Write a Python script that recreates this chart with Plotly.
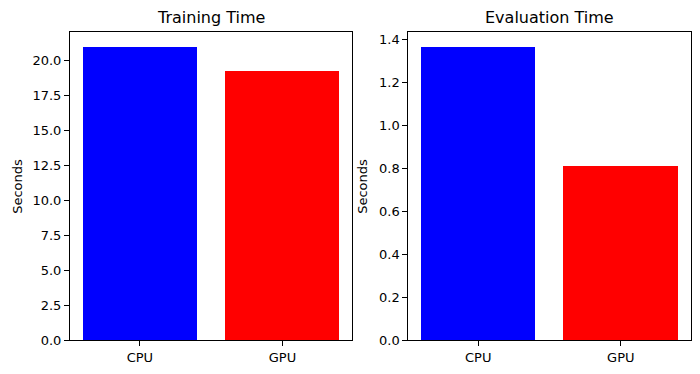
import plotly.graph_objects as go

categories = ["CPU", "GPU"]
training_time = [20.95, 19.2]
evaluation_time = [1.364, 0.807]
bar_colors = ["#0000ff", "#ff0000"]
titles = ["Training Time", "Evaluation Time"]
y_label = "Seconds"

W, H = 700, 374
FONT = "DejaVu Sans"

def px_x(v):
    return v / W

def px_y(v):
    return 1 - v / H

fig = go.Figure()
fig.add_trace(go.Bar(x=categories, y=training_time, marker=dict(color=bar_colors, line=dict(width=0)),
                     width=0.8, xaxis="x", yaxis="y", showlegend=False))
fig.add_trace(go.Bar(x=categories, y=evaluation_time, marker=dict(color=bar_colors, line=dict(width=0)),
                     width=0.8, xaxis="x2", yaxis="y2", showlegend=False))

ydom = [px_y(340.3), px_y(32.3)]
common_x = dict(showline=True, linecolor="black", linewidth=1, mirror=True, ticks="outside",
                ticklen=5, tickcolor="black", showgrid=False, zeroline=False, automargin=False,
                range=[-0.49, 1.49], tickfont=dict(family=FONT, size=13, color="black"))
common_y = dict(showline=True, linecolor="black", linewidth=1, mirror=True, ticks="outside",
                ticklen=5, tickcolor="black", showgrid=False, zeroline=False, automargin=False,
                tickformat=".1f", tickfont=dict(family=FONT, size=13, color="black"), domain=ydom)

fig.update_layout(
    width=W, height=H, margin=dict(l=0, r=0, t=0, b=0, pad=0),
    plot_bgcolor="white", paper_bgcolor="white", bargap=0,
    xaxis=dict(domain=[px_x(70), px_x(352.3)], anchor="y", **common_x),
    yaxis=dict(anchor="x", range=[0, max(training_time) * 1.05], dtick=2.5, **common_y),
    xaxis2=dict(domain=[px_x(408.3), px_x(690.7)], anchor="y2", **common_x),
    yaxis2=dict(anchor="x2", range=[0, max(evaluation_time) * 1.05], dtick=0.2, **common_y),
)

centers = [(70 + 352.3) / 2, (408.3 + 690.7) / 2]
for c, t in zip(centers, titles):
    fig.add_annotation(text=t, x=px_x(c), y=px_y(18), xref="paper", yref="paper",
                       xanchor="center", yanchor="middle", showarrow=False,
                       font=dict(family=FONT, size=16, color="black"))
for xc in [17.5, 362.5]:
    fig.add_annotation(text=y_label, x=px_x(xc), y=px_y(186.3), xref="paper", yref="paper",
                       xanchor="center", yanchor="middle", showarrow=False, textangle=-90,
                       font=dict(family=FONT, size=13, color="black"))

fig.write_html("out.html", config={"displayModeBar": False},
               post_script="document.body.style.margin='0';document.body.style.padding='0';")
